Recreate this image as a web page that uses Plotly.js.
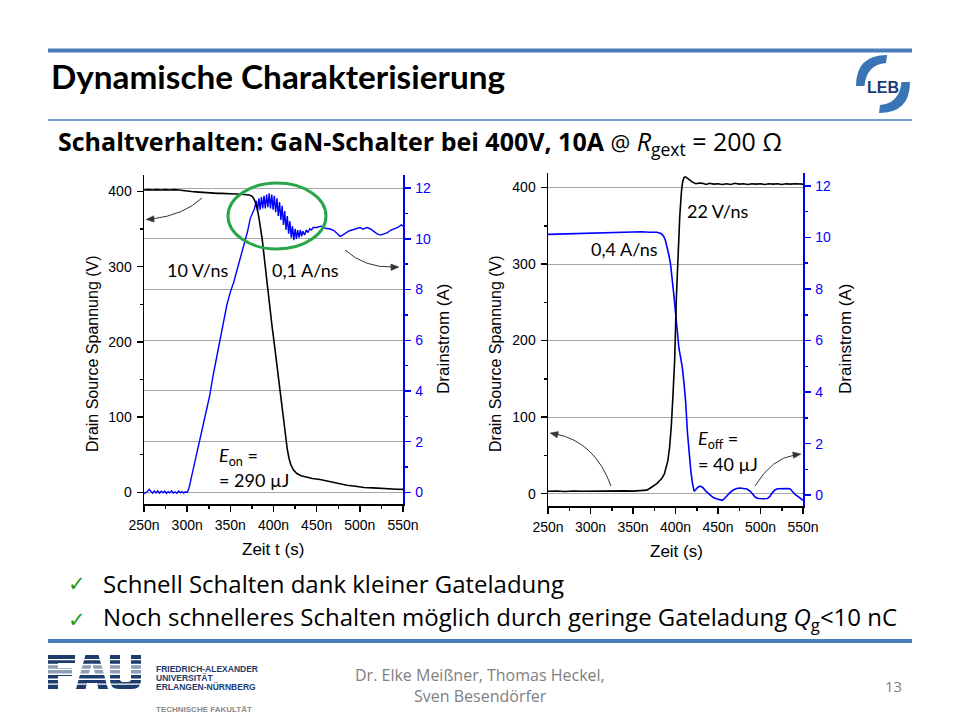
<!DOCTYPE html>
<html><head><meta charset="utf-8">
<script src="https://cdn.plot.ly/plotly-3.0.1.min.js"></script>
<style>html,body{margin:0;padding:0;background:#fff}#chart{width:960px;height:720px}</style>
</head><body><div id="chart"></div>
<script>
// ---------------- data ----------------
// Einschalten (left chart): time in ns
const onTimeV = [
 250,255,260,265,270,275,280,285,290,295,
 300,305,310,315,320,325,330,335,340,345,
 350,355,360,365,369,372,375,377,379,381,
 383,385,387,390,392,394,396,398,400,402,
 404,406,408,410,412,414,416,418,420,423,
 427,432,438,445,454,462,470,478,485,495,
 505,515,525,535,543,550];
const onVoltage = [
 402,402.5,402,402.5,402,402.5,402,402.5,402,401,
 400.5,400,399.5,399,398.5,398.5,398,397.5,397.5,397,
 397,396.8,396.8,396.5,396.5,395.5,394,391,386,378,
 366,352,336,305,283,262,243,224,206,188,
 170,151,132,112,92,73,57,45,37,30,
 25,22,20,18.5,17,15,13,11,9.5,8,
 6.5,6,5,4.5,4.2,4];
const onTimeI = [
 250,252,254,256,258,260,262,264,266,268,
 270,272,274,276,278,280,282,284,286,288,
 290,292,294,296,298,300,302,305,308,312,
 315,319,322,326,330,334,338,342,346,350,
 354,358,362,366,370,373,376,378,380,381.5,
 383,384.5,386,387.5,389,390.5,392,393.5,395,396.5,
 398,399.5,401,402.5,404,405.5,407,408.5,410,411.5,
 413,414.5,416,417.5,419,420.5,422,423.5,425,426.5,
 428,429.5,431,432.5,434,436,438,440,442,444,
 446,450,455,460,465,470,474,477,480,484,
 488,492,496,500,504,508,512,516,520,524,
 528,532,536,540,544,548,550];
const onCurrent = [
 -0.05,-0.02,0.03,0.12,0.04,-0.03,0.05,-0.02,0.06,-0.03,
 0.04,-0.02,0.05,-0.04,0.03,-0.02,0.06,-0.03,0.02,-0.04,
 0.05,-0.02,0.03,-0.03,0.02,0,0.15,0.6,1.1,1.6,
 2.1,2.7,3.2,3.8,4.6,5.3,6.0,6.8,7.4,7.9,
 8.3,8.8,9.3,9.8,10.3,10.8,11.05,11.2,11.5,11.1,
 11.6,11.15,11.65,11.2,11.7,11.2,11.75,11.25,11.8,11.2,
 11.75,11.15,11.7,11.05,11.6,10.9,11.45,10.75,11.3,10.55,
 11.1,10.35,10.9,10.2,10.7,10.05,10.5,9.95,10.4,10.0,
 10.35,10.05,10.35,10.1,10.3,10.15,10.35,10.25,10.4,10.35,
 10.45,10.45,10.5,10.42,10.4,10.33,10.2,10.1,10.15,10.25,
 10.32,10.36,10.42,10.45,10.38,10.45,10.4,10.3,10.2,10.15,
 10.2,10.25,10.35,10.4,10.45,10.55,10.5];

// Ausschalten (right chart)
const offTimeV = [
 250,260,270,280,290,300,310,320,330,340,
 350,360,366,370,374,378,381,384,387,389,
 391,393,395,397,399,401,403,405,407,408.5,
 410,411.5,413,415,417,420,424,428,432,436,
 440,445,450,455,460,465,470,475,480,485,
 490,495,500,505,510,515,520,525,530,535,
 540,545,550];
const offVoltage = [
 3,3.5,2.8,3.4,3,3.3,3.6,3,3.4,3.6,
 3.2,3.5,4.5,7,9.5,13,16.5,20,26,33,
 43,60,87,128,174,255,320,362,395,408,
 413,414,413,411,409.5,407,405,406,405.5,404,
 405.5,404.5,405,404,405,404,405.5,404.5,405,404,
 405,404.5,405,404,405,404.5,405,404,405,404.5,
 405,404.5,404.5];
const offTimeI = [
 250,260,270,280,290,300,310,320,330,340,
 350,360,370,378,383,386,388,390,392,394,
 396,398,400,402,404,406,408,410,412,414,
 416,418,420,422,424,426,429,432,436,440,
 444,448,452,455,458,461,464,468,472,476,
 480,484,488,491,494,497,500,504,508,511,
 514,517,520,524,528,532,535,538,541,544,
 547,550];
const offCurrent = [
 10.12,10.13,10.15,10.14,10.17,10.18,10.19,10.2,10.21,10.22,
 10.21,10.22,10.2,10.2,10.15,10.05,9.9,9.65,9.35,9.0,
 8.5,7.8,7.1,6.3,5.7,5.35,4.95,4.35,3.6,2.45,
 1.6,0.95,0.45,0.15,0.22,0.3,0.35,0.3,0.15,0.05,
 -0.08,-0.14,-0.18,-0.2,-0.12,0,0.1,0.2,0.26,0.28,
 0.27,0.24,0.15,0.05,-0.08,-0.13,-0.14,-0.14,-0.13,-0.05,
 0.1,0.2,0.25,0.26,0.27,0.26,0.24,0.12,0.02,-0.05,
 -0.12,-0.2];

// tick labels
const timeTicks = [250,300,350,400,450,500,550];
const timeTickLabels = ['250n','300n','350n','400n','450n','500n','550n'];
const voltageTicks = [0,100,200,300,400];
const currentTicks = [0,2,4,6,8,10,12];

// ---------------- layout helpers ----------------
const W = 960, H = 720;
const px = x => x / W, py = y => 1 - y / H;
const TF = 'Liberation Sans, Arial, sans-serif';
const CF = 'Lato, Carlito, Calibri, sans-serif';
const SF = 'Open Sans, Segoe UI, sans-serif';
const BLUE = '#0000ff';

function pathFrom(segs) {
  return segs.map(s => {
    const c = s[0], n = s.slice(1), out = [];
    for (let i = 0; i < n.length; i += 2) out.push(px(n[i]).toFixed(5) + ',' + py(n[i + 1]).toFixed(5));
    return c + out.join(' ');
  }).join(' ');
}
function txt(x, y, text, font, opts) {
  return Object.assign({xref:'paper', yref:'paper', x:px(x), y:py(y), text:text, showarrow:false,
    font:font, xanchor:'left', yanchor:'middle'}, opts || {});
}
// small filled arrow head (tip at tx,ty, coming from fx,fy)
function headShape(tx, ty, fx, fy) {
  const dx = tx - fx, dy = ty - fy, l = Math.hypot(dx, dy), ux = dx / l, uy = dy / l;
  const L = 8, Wd = 3.2, bx = tx - L * ux, by = ty - L * uy;
  return {type:'path', xref:'paper', yref:'paper', fillcolor:'#333', line:{color:'#333', width:0.5},
    path:pathFrom([['M',tx,ty],['L',bx - Wd * uy, by + Wd * ux],['L',bx + Wd * uy, by - Wd * ux],['Z']])};
}

function xAxis(dom, anchor) {
  return {domain:dom, anchor:anchor, range:[250,550], tickvals:timeTicks, ticktext:timeTickLabels,
    ticks:'outside', ticklen:6, tickwidth:1.5, tickcolor:'#000',
    minor:{dtick:25, tick0:250, ticks:'outside', ticklen:3, tickwidth:1.5, tickcolor:'#000', showgrid:false},
    showline:true, linecolor:'#000', linewidth:1.5, showgrid:false, zeroline:false,
    tickfont:{family:TF, size:14, color:'#000'}, ticklabelstandoff:2, fixedrange:true};
}
function xTop(over, anchor) {
  return {overlaying:over, anchor:anchor, side:'top', range:[250,550], tickvals:timeTicks,
    showticklabels:false, ticks:'inside', ticklen:6, tickwidth:1.5, tickcolor:'#000',
    minor:{dtick:25, tick0:250, ticks:'inside', ticklen:4, tickwidth:1.5, tickcolor:'#000', showgrid:false},
    showline:true, linecolor:'#000', linewidth:1.5, showgrid:false, zeroline:false, fixedrange:true};
}
function yCurrent(dom, anchor, range, grid) {
  return {domain:dom, anchor:anchor, side:'right', range:range, tickvals:currentTicks,
    ticks:'outside', ticklen:6, tickwidth:1.5, tickcolor:BLUE,
    minor:{dtick:1, tick0:0, ticks:'outside', ticklen:3, tickwidth:1.5, tickcolor:BLUE, showgrid:false},
    showline:true, linecolor:BLUE, linewidth:1.5, showgrid:grid, gridcolor:'#a8a8a8', gridwidth:1,
    zeroline:false, tickfont:{family:TF, size:14, color:BLUE}, ticklabelstandoff:2, fixedrange:true};
}
function yVoltage(over, anchor, range, grid) {
  return {overlaying:over, anchor:anchor, side:'left', range:range, tickvals:voltageTicks,
    ticks:'outside', ticklen:6, tickwidth:1.5, tickcolor:'#000',
    minor:{dtick:50, tick0:0, ticks:'outside', ticklen:3, tickwidth:1.5, tickcolor:'#000', showgrid:false},
    showline:true, linecolor:'#000', linewidth:1.5, showgrid:grid, gridcolor:'#a8a8a8', gridwidth:1,
    zeroline:false, tickfont:{family:TF, size:14, color:'#000'}, ticklabelstandoff:2, fixedrange:true};
}

const traces = [
  {x:onTimeI, y:onCurrent, xaxis:'x', yaxis:'y', type:'scatter', mode:'lines', line:{color:BLUE, width:1.4}, hoverinfo:'skip'},
  {x:onTimeV, y:onVoltage, xaxis:'x', yaxis:'y2', type:'scatter', mode:'lines', line:{color:'#000', width:1.6}, hoverinfo:'skip'},
  {x:offTimeI, y:offCurrent, xaxis:'x2', yaxis:'y3', type:'scatter', mode:'lines', line:{color:BLUE, width:1.6}, hoverinfo:'skip'},
  {x:offTimeV, y:offVoltage, xaxis:'x2', yaxis:'y4', type:'scatter', mode:'lines', line:{color:'#000', width:1.6}, hoverinfo:'skip'}
];

const domL = [px(144), px(403)], domLy = [py(504), py(175)];
const domR = [px(548), px(803)], domRy = [py(506), py(173)];

// ---------------- decorations ----------------
const SLIDE_BLUE = '#4a7ebb';
const LOGO_BLUE = '#3a74b4';
const FAU_NAVY = '#1d3c6c';
const shapes = [
  {type:'line', xref:'paper', yref:'paper', x0:px(48), x1:px(912), y0:py(50.5), y1:py(50.5), line:{color:SLIDE_BLUE, width:4}},
  {type:'line', xref:'paper', yref:'paper', x0:px(48), x1:px(912), y0:py(120), y1:py(120), line:{color:SLIDE_BLUE, width:1.3}},
  {type:'line', xref:'paper', yref:'paper', x0:px(48), x1:px(912), y0:py(641), y1:py(641), line:{color:SLIDE_BLUE, width:4}},
  // LEB logo arcs
  {type:'path', xref:'paper', yref:'paper', fillcolor:LOGO_BLUE, line:{width:0},
   path:pathFrom([['M',856,86],['Q',856,55,887,55],['L',886,63],['Q',866.5,64.5,864.5,86],['Z']])},
  {type:'path', xref:'paper', yref:'paper', fillcolor:LOGO_BLUE, line:{width:0},
   path:pathFrom([['M',910,82],['Q',910,113,879,113],['L',880,105],['Q',899.5,103.5,901.5,82],['Z']])},
  // FAU letters
  {type:'path', xref:'paper', yref:'paper', fillcolor:FAU_NAVY, line:{width:0},
   path:pathFrom([['M',48,655],['L',75,655],['L',75,663],['L',58,663],['L',58,668],['L',72,668],['L',72,676],['L',58,676],['L',58,689],['L',48,689],['Z']])},
  {type:'path', xref:'paper', yref:'paper', fillcolor:FAU_NAVY, line:{width:0},
   path:pathFrom([['M',76,689],['L',85.5,655],['L',98.5,655],['L',108,689],['L',98.5,689],['L',97,683],['L',87,683],['L',85.5,689],['Z'],
                  ['M',88.5,675],['L',95.5,675],['L',92,663],['Z']])},
  {type:'path', xref:'paper', yref:'paper', fillcolor:FAU_NAVY, line:{width:0},
   path:pathFrom([['M',110,655],['L',120,655],['L',120,679],['Q',120,682,123,682],['L',128,682],['Q',131,682,131,679],['L',131,655],
                  ['L',141,655],['L',141,680],['Q',141,689,132,689],['L',119,689],['Q',110,689,110,680],['Z']])},
  // lighter middle band of the FAU logo
  {type:'rect', xref:'paper', yref:'paper', x0:px(46), x1:px(143), y0:py(674.5), y1:py(664.5), fillcolor:'rgba(255,255,255,0.5)', line:{width:0}},
  // green ellipse
  {type:'circle', xref:'paper', yref:'paper', x0:px(228), x1:px(326), y0:py(249), y1:py(183), line:{color:'#27a74a', width:3}},
  // curved arrow shafts
  {type:'path', xref:'paper', yref:'paper', line:{color:'#333', width:1}, path:pathFrom([['M',202,198],['Q',184,215,152,219]])},
  {type:'path', xref:'paper', yref:'paper', line:{color:'#333', width:1}, path:pathFrom([['M',345,250],['Q',365,268,393,267]])},
  {type:'path', xref:'paper', yref:'paper', line:{color:'#333', width:1}, path:pathFrom([['M',611,486],['Q',595,442,556,434]])},
  {type:'path', xref:'paper', yref:'paper', line:{color:'#333', width:1}, path:pathFrom([['M',755,486],['Q',772,458,795,455]])},
  headShape(146, 219.5, 160, 218.5),
  headShape(399, 267, 385, 267.5),
  headShape(550, 433, 564, 436),
  headShape(801, 454, 787, 456)
];
// white stripes through the FAU letters
[659.6, 664.5, 669.4, 674.3, 679.2, 684.1].forEach(y => shapes.push(
  {type:'line', xref:'paper', yref:'paper', x0:px(46), x1:px(143), y0:py(y), y1:py(y), line:{color:'#fff', width:1.4}}));

const annotations = [
  txt(49, 76, '<b>Dynamische Charakterisierung</b>', {family:CF, size:33.3, color:'#000'}),
  txt(56, 143, '<b>Schaltverhalten: GaN-Schalter bei 400V, 10A</b> <span style="font-size:22px">@</span> <i>R</i><sub>gext</sub> = 200 Ω', {family:SF, size:25, color:'#000'}),
  txt(883, 87, '<b>LEB</b>', {family:TF, size:16, color:'#1c3c78'}, {xanchor:'center'}),
  // bullets
  txt(66, 584, '✓', {family:'DejaVu Sans', size:21, color:'#1a9a1a'}),
  txt(66, 620, '✓', {family:'DejaVu Sans', size:21, color:'#1a9a1a'}),
  txt(101, 583, 'Schnell Schalten dank kleiner Gateladung', {family:SF, size:24, color:'#000'}),
  txt(101, 618, 'Noch schnelleres Schalten möglich durch geringe Gateladung <i>Q</i><sub>g</sub>&lt;10 nC', {family:SF, size:24, color:'#000'}),
  // footer
  txt(480, 675, 'Dr. Elke Meißner, Thomas Heckel,', {family:SF, size:16, color:'#808080'}, {xanchor:'center'}),
  txt(480, 696, 'Sven Besendörfer', {family:SF, size:16, color:'#808080'}, {xanchor:'center'}),
  txt(893, 686, '13', {family:SF, size:15, color:'#808080'}, {xanchor:'center'}),
  txt(154, 669, '<b>FRIEDRICH-ALEXANDER</b>', {family:TF, size:8.5, color:FAU_NAVY}),
  txt(154, 678, '<b>UNIVERSITÄT</b>', {family:TF, size:8.5, color:FAU_NAVY}),
  txt(154, 687, '<b>ERLANGEN-NÜRNBERG</b>', {family:TF, size:8.5, color:FAU_NAVY}),
  txt(154, 709, '<b>TECHNISCHE FAKULTÄT</b>', {family:TF, size:8, color:'#8a8a8a'}),
  // axis titles
  txt(92, 354, 'Drain Source Spannung (V)', {family:TF, size:16, color:'#000'}, {textangle:-90, xanchor:'center'}),
  txt(443, 339, 'Drainstrom (A)', {family:TF, size:17, color:'#000'}, {textangle:-90, xanchor:'center'}),
  txt(273, 549, 'Zeit t (s)', {family:TF, size:17, color:'#000'}, {xanchor:'center'}),
  txt(495, 354, 'Drain Source Spannung (V)', {family:TF, size:16, color:'#000'}, {textangle:-90, xanchor:'center'}),
  txt(845, 339, 'Drainstrom (A)', {family:TF, size:17, color:'#000'}, {textangle:-90, xanchor:'center'}),
  txt(676, 551, 'Zeit (s)', {family:TF, size:17, color:'#000'}, {xanchor:'center'}),
  // in-chart notes
  txt(198, 270, '10 V/ns', {family:CF, size:18, color:'#000'}, {xanchor:'center'}),
  txt(305, 270, '0,1 A/ns', {family:CF, size:18, color:'#000'}, {xanchor:'center'}),
  txt(217, 456, '<i>E</i><sub>on</sub> =', {family:CF, size:18, color:'#000'}),
  txt(217, 480, '= 290 µJ', {family:CF, size:18, color:'#000'}),
  txt(718, 211, '22 V/ns', {family:CF, size:18, color:'#000'}, {xanchor:'center'}),
  txt(624, 249, '0,4 A/ns', {family:CF, size:18, color:'#000'}, {xanchor:'center'}),
  txt(696, 439, '<i>E</i><sub>off</sub> =', {family:CF, size:18, color:'#000'}),
  txt(696, 464, '= 40 µJ', {family:CF, size:18, color:'#000'})
];

const layout = {
  width:W, height:H, margin:{l:0, r:0, t:0, b:0, autoexpand:false},
  paper_bgcolor:'#fff', plot_bgcolor:'rgba(0,0,0,0)', showlegend:false,
  xaxis: xAxis(domL, 'y'),
  xaxis2: xAxis(domR, 'y3'),
  xaxis3: xTop('x', 'y'),
  xaxis4: xTop('x2', 'y3'),
  yaxis: yCurrent(domLy, 'x', [-0.46, 12.52], true),
  yaxis2: yVoltage('y', 'x', [-15.5, 422], false),
  yaxis3: yCurrent(domRy, 'x2', [-0.42, 12.5], false),
  yaxis4: yVoltage('y3', 'x2', [-16.2, 419], true),
  shapes: shapes,
  annotations: annotations
};

Plotly.newPlot('chart', traces, layout, {staticPlot:true, displayModeBar:false});
</script>
</body></html>
